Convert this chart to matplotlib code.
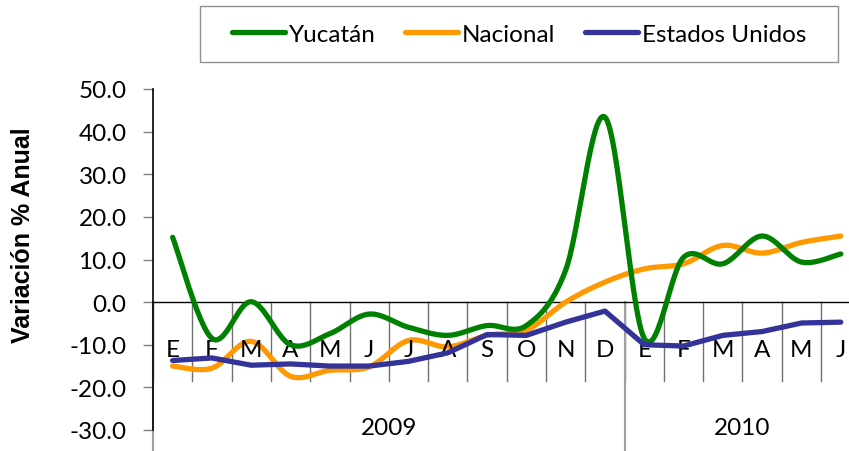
import numpy as np
import matplotlib
matplotlib.use('Agg')
import matplotlib.pyplot as plt
from matplotlib.patches import Rectangle
from matplotlib.lines import Line2D

plt.rcParams['font.family'] = ['Lato', 'DejaVu Sans']
plt.rcParams['axes.unicode_minus'] = False

# datos: variacion % anual por mes (ene 2009 - jun 2010)
meses = ['E', 'F', 'M', 'A', 'M', 'J', 'J', 'A', 'S', 'O', 'N', 'D',
         'E', 'F', 'M', 'A', 'M', 'J']
anios = ['2009', '2010']
yucatan = [15.2, -8.5, 0.1, -10.0, -7.4, -2.8, -5.9, -7.8, -5.5, -5.5,
           7.5, 43.4, -8.5, 10.5, 9.0, 15.5, 9.4, 11.3]
nacional = [-15.0, -15.5, -9.2, -17.4, -16.0, -15.2, -9.0, -10.5, -7.8, -6.6,
            0.0, 4.7, 7.8, 9.0, 13.3, 11.5, 14.0, 15.5]
eeuu = [-13.7, -13.1, -14.8, -14.5, -15.0, -15.0, -13.9, -11.9, -7.6, -7.8,
        -4.7, -2.1, -10.0, -10.3, -7.8, -6.9, -4.9, -4.7]

verde = '#008000'
naranja = '#FF9900'
azul = '#333399'


def suavizar(y, n=30):
    # curva suave tipo Excel (Bezier con tangentes Catmull-Rom)
    p = np.column_stack([np.arange(len(y), dtype=float), np.asarray(y, float)])
    t = np.linspace(0, 1, n)[:, None]
    out = []
    for i in range(len(p) - 1):
        a = p[max(i - 1, 0)]
        b = p[i]
        c = p[i + 1]
        d = p[min(i + 2, len(p) - 1)]
        c1 = b + (c - a) / 6
        c2 = c - (d - b) / 6
        seg = ((1 - t) ** 3) * b + 3 * ((1 - t) ** 2) * t * c1 + 3 * (1 - t) * t ** 2 * c2 + t ** 3 * c
        out.append(seg if i == 0 else seg[1:])
    out = np.vstack(out)
    return out[:, 0], out[:, 1]


fig = plt.figure(figsize=(8.49, 4.52), dpi=100)
ax = fig.add_axes([153 / 849, 1 - 431 / 452, (860.4 - 153) / 849, (431 - 90) / 452])
ax.set_xlim(-0.5, 17.5)
ax.set_ylim(-30, 50)

x = np.arange(len(meses))
lw = 3.8
xs, ys = suavizar(yucatan)
ax.plot(xs, ys, color=verde, lw=lw, solid_capstyle='round', zorder=4)
xs, ys = suavizar(nacional)
ax.plot(xs, ys, color=naranja, lw=lw, solid_capstyle='round', zorder=3)
ax.plot(x, eeuu, color=azul, lw=lw, solid_capstyle='round', zorder=5)

# eje de categorias en cero
ax.axhline(0, color='black', lw=1, zorder=2)
for b in np.arange(-0.5, 18, 1):
    ax.plot([b, b], [0, -18.4], color='#707070', lw=1, clip_on=False, zorder=1)
for b in [-0.5, 11.5]:
    ax.plot([b, b], [0, -35], color='#A0A0A0', lw=1.5, clip_on=False, zorder=1)

for i, m in enumerate(meses):
    ax.text(i, -11.2, m, ha='center', va='center', fontsize=17.5)
ax.text(5.5, -29.3, anios[0], ha='center', va='center', fontsize=17.5)
ax.text(14.5, -29.3, anios[1], ha='center', va='center', fontsize=17.5)

for s in ['top', 'right', 'bottom']:
    ax.spines[s].set_visible(False)
ax.spines['left'].set_linewidth(1.2)
ax.set_xticks([])
ax.set_yticks(np.arange(-30, 51, 10))
ax.yaxis.set_major_formatter(plt.FuncFormatter(lambda v, p: f'{v:.1f}'))
ax.tick_params(axis='y', length=7, width=1, color='#808080', pad=12, labelsize=17.5)

fig.text(23 / 849, 1 - 235 / 452, 'Variación % Anual', rotation=90, fontweight='bold',
         fontsize=18, family='Liberation Sans', ha='center', va='center')

handles = [Line2D([], [], color=c, lw=lw, solid_capstyle='round') for c in [verde, naranja, azul]]
fig.legend(handles, ['Yucatán', 'Nacional', 'Estados Unidos'], loc='center',
           bbox_to_anchor=(519 / 849, 1 - 35 / 452), ncol=3, frameon=False,
           handlelength=2.2, handletextpad=0.15, columnspacing=1.2, fontsize=17.5)
fig.patches.append(Rectangle((200 / 849, 1 - 63 / 452), 638 / 849, 56 / 452,
                             transform=fig.transFigure, fill=False, edgecolor='#909090', lw=1))

fig.savefig('out.png', dpi=100)
